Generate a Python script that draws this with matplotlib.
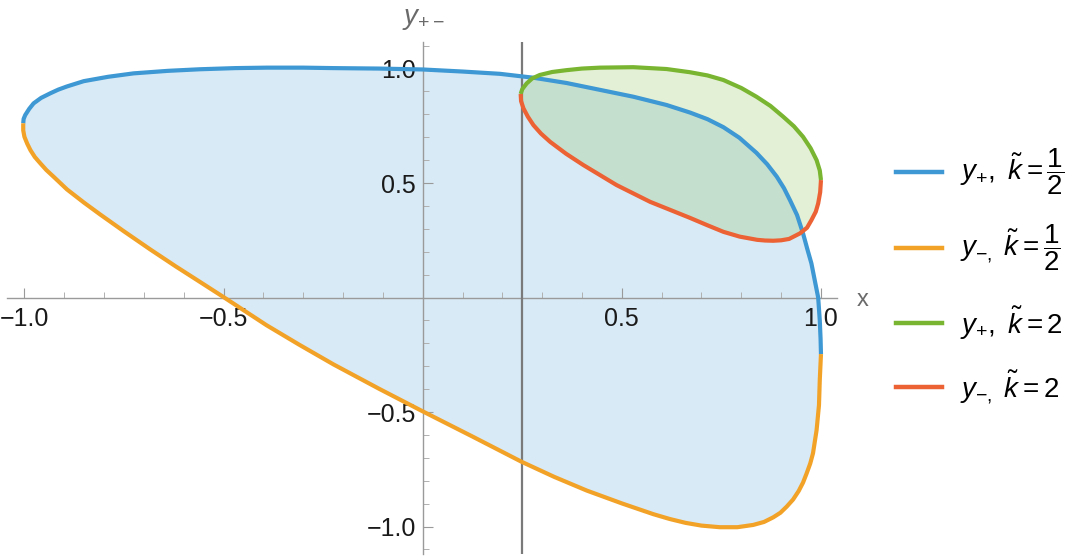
import numpy as np
import matplotlib
matplotlib.use('Agg')
import matplotlib.pyplot as plt
from matplotlib.ticker import MultipleLocator, FixedLocator, FuncFormatter
from matplotlib.lines import Line2D

plt.rcParams['font.family'] = ['Liberation Sans', 'DejaVu Sans']
plt.rcParams['mathtext.fontset'] = 'custom'
plt.rcParams['mathtext.rm'] = 'Liberation Sans'
plt.rcParams['mathtext.it'] = 'Liberation Sans:italic'
plt.rcParams['mathtext.bf'] = 'Liberation Sans:bold'

# y+ , k=1/2  (left tip -> right end)
xp_half = [-1.003, -1.002, -0.998, -0.988, -0.977, -0.958, -0.935, -0.915, -0.893, -0.851,
           -0.79, -0.726, -0.64, -0.559, -0.47, -0.391, -0.30, -0.225, -0.11, 0.0,
           0.10, 0.194, 0.278, 0.361, 0.445, 0.529, 0.612, 0.671, 0.715, 0.755,
           0.795, 0.838, 0.865, 0.889, 0.907, 0.922, 0.94, 0.955, 0.966, 0.976,
           0.985, 0.993, 0.997, 0.999, 1.0]
yp_half = [0.761, 0.78, 0.797, 0.824, 0.848, 0.872, 0.892, 0.908, 0.922, 0.945,
           0.964, 0.979, 0.990, 0.997, 1.002, 1.004, 1.004, 1.002, 1.0, 0.996,
           0.987, 0.977, 0.960, 0.937, 0.907, 0.877, 0.841, 0.808, 0.779, 0.744,
           0.698, 0.632, 0.582, 0.528, 0.478, 0.426, 0.36, 0.280, 0.21, 0.149,
           0.07, 0.0, -0.1, -0.18, -0.247]

# y- , k=1/2
xm_half = [-1.003, -1.003, -1.0, -0.993, -0.985, -0.974, -0.960, -0.945, -0.927, -0.893,
           -0.85, -0.810, -0.75, -0.684, -0.62, -0.559, -0.5, -0.392, -0.31, -0.224,
           -0.11, 0.0, 0.125, 0.248, 0.33, 0.412, 0.50, 0.579, 0.62, 0.66,
           0.70, 0.746, 0.79, 0.830, 0.857, 0.88, 0.898, 0.914, 0.93, 0.944,
           0.955, 0.964, 0.973, 0.980, 0.989, 0.995, 0.997, 1.0]
ym_half = [0.761, 0.73, 0.702, 0.672, 0.644, 0.614, 0.586, 0.557, 0.528, 0.472,
           0.414, 0.363, 0.289, 0.210, 0.136, 0.068, 0.002, -0.121, -0.206, -0.292,
           -0.398, -0.497, -0.607, -0.717, -0.783, -0.843, -0.899, -0.946, -0.967, -0.984,
           -0.996, -1.003, -1.003, -0.993, -0.98, -0.96, -0.94, -0.913, -0.882, -0.845,
           -0.808, -0.768, -0.725, -0.68, -0.579, -0.47, -0.360, -0.247]

# y+ , k=2
xp_two = [0.246, 0.25, 0.261, 0.275, 0.294, 0.325, 0.361, 0.40, 0.445, 0.529,
          0.612, 0.671, 0.715, 0.755, 0.80, 0.838, 0.873, 0.905, 0.932, 0.955,
          0.974, 0.989, 0.997, 1.0]
yp_two = [0.889, 0.91, 0.935, 0.957, 0.972, 0.985, 0.993, 1.0, 1.004, 1.006,
          0.998, 0.984, 0.970, 0.950, 0.915, 0.877, 0.837, 0.790, 0.748, 0.702,
          0.652, 0.600, 0.555, 0.513]

# y- , k=2
xm_two = [0.246, 0.247, 0.253, 0.264, 0.278, 0.297, 0.320, 0.36, 0.403, 0.487,
          0.571, 0.671, 0.713, 0.755, 0.796, 0.840, 0.860, 0.880, 0.90, 0.920,
          0.947, 0.965, 0.976, 0.987, 0.993, 0.998, 1.0]
ym_two = [0.889, 0.858, 0.826, 0.79, 0.753, 0.716, 0.680, 0.628, 0.579, 0.491,
          0.418, 0.348, 0.317, 0.287, 0.266, 0.252, 0.249, 0.248, 0.250, 0.256,
          0.280, 0.305, 0.338, 0.375, 0.411, 0.46, 0.513]

x_line = 0.25
labels = [r'$y_{+},\ \tilde{k}=\dfrac{1}{2}$',
          r'$y_{-,}\ \tilde{k}=\dfrac{1}{2}$',
          r'$y_{+},\ \tilde{k}=2$',
          r'$y_{-,}\ \tilde{k}=2$']

blue, orange, green, red = '#3d98d3', '#f2a227', '#79b531', '#ec6234'
colors = [blue, orange, green, red]

W, H = 1080, 559
fig = plt.figure(figsize=(W / 100, H / 100), dpi=100)
ax = fig.add_axes([7.3 / W, 1 - 554 / H, 830 / W, 512 / H])
ax.set_xlim(-1.043, 1.041)
ax.set_ylim(-1.12, 1.116)

# shaded regions
ax.fill(np.concatenate([xp_half, xm_half[::-1]]), np.concatenate([yp_half, ym_half[::-1]]),
        color=blue, alpha=0.2, lw=0, zorder=1)
ax.fill(np.concatenate([xp_two, xm_two[::-1]]), np.concatenate([yp_two, ym_two[::-1]]),
        color=green, alpha=0.2, lw=0, zorder=1.1)

ax.axvline(x_line, color='#7a7a7a', lw=1.6, zorder=2.6)

for xs, ys, c in [(xp_half, yp_half, blue), (xm_half, ym_half, orange),
                  (xp_two, yp_two, green), (xm_two, ym_two, red)]:
    ax.plot(xs, ys, color=c, lw=3, solid_capstyle='butt', solid_joinstyle='round', zorder=3)

# Mathematica style axes through the origin
for s in ['top', 'right']:
    ax.spines[s].set_visible(False)
ax.spines['left'].set_position(('data', 0))
ax.spines['bottom'].set_position(('data', 0))
for s in ['left', 'bottom']:
    ax.spines[s].set_color('#9a9a9a')
    ax.spines[s].set_linewidth(1.0)

fmt = FuncFormatter(lambda v, p: ('%.1f' % v).replace('-', '\u2212'))
ax.xaxis.set_major_locator(FixedLocator([-1.0, -0.5, 0.5, 1.0]))
ax.yaxis.set_major_locator(FixedLocator([-1.0, -0.5, 0.5, 1.0]))
ax.xaxis.set_minor_locator(MultipleLocator(0.1))
ax.yaxis.set_minor_locator(MultipleLocator(0.1))
ax.xaxis.set_major_formatter(fmt)
ax.yaxis.set_major_formatter(fmt)
ax.tick_params(which='major', direction='in', length=7, width=0.8, color='#9a9a9a',
               labelsize=18, labelcolor='#1a1a1a')
ax.tick_params(which='minor', direction='in', length=4, width=0.7, color='#b0b0b0')
ax.tick_params(axis='x', which='major', pad=7)
ax.tick_params(axis='y', which='major', pad=5)
ax.patch.set_alpha(0)

fig.text(402 / W, 1 - 19 / H, r'$y_{+-}$', fontsize=20, color='#6a6a6a', ha='left', va='center')
fig.text(863 / W, 1 - 300 / H, 'x', fontsize=17, color='#6a6a6a', ha='center', va='center')

# legend
rows = [172, 248, 323, 387]
for py, c, lab in zip(rows, colors, labels):
    fig.add_artist(Line2D([896 / W, 942 / W], [1 - py / H, 1 - py / H], color=c, lw=3.2))
    fig.text(960 / W, 1 - py / H, lab, fontsize=20, color='black', ha='left', va='center')

plt.savefig('out.png', dpi=100)
